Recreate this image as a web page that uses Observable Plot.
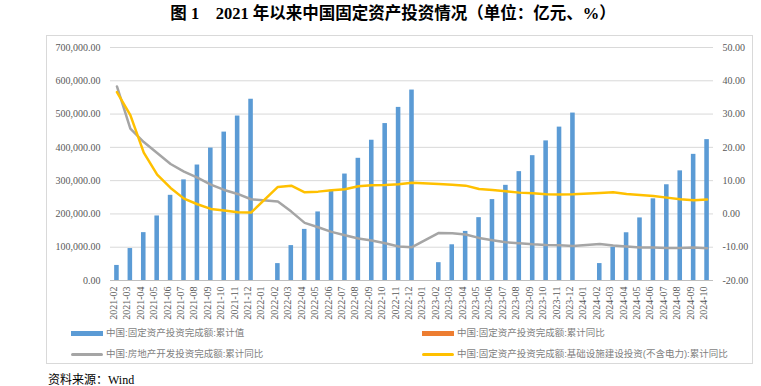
<!DOCTYPE html>
<html><head><meta charset="utf-8">
<script src="https://cdn.jsdelivr.net/npm/d3@7"></script>
<script src="https://cdn.jsdelivr.net/npm/@observablehq/plot@0.6"></script>
<style>
body{margin:0;background:#fff;width:761px;height:386px;position:relative;overflow:hidden;font-family:"Liberation Serif","Noto Sans CJK SC",serif;}
#title{position:absolute;left:0;width:786px;top:3px;text-align:center;font-size:16.5px;font-weight:bold;color:#000;line-height:22px;}
#frame{position:absolute;left:46px;top:35px;width:707px;height:329px;border:1px solid #D9D9D9;box-sizing:border-box;}
#chart{position:absolute;left:0;top:35px;}
.lg{position:absolute;font-family:"Liberation Sans","Noto Sans CJK SC",sans-serif;font-size:9.5px;color:#7f7f7f;white-space:nowrap;line-height:12px;}
.sw{position:absolute;}
#src{position:absolute;left:48px;top:374px;font-size:12px;line-height:13px;color:#000;font-family:"Liberation Serif","Noto Sans CJK SC",serif;}
</style></head>
<body>
<div id="title">图 1　2021 年以来中国固定资产投资情况（单位：亿元、%）</div>
<div id="frame"></div>
<div id="chart"></div>
<div id="legend"></div>
<div id="src">资料来源：Wind</div>
<script>
const months = ["2021-02","2021-03","2021-04","2021-05","2021-06","2021-07","2021-08","2021-09","2021-10","2021-11","2021-12",
"2022-01","2022-02","2022-03","2022-04","2022-05","2022-06","2022-07","2022-08","2022-09","2022-10","2022-11","2022-12",
"2023-01","2023-02","2023-03","2023-04","2023-05","2023-06","2023-07","2023-08","2023-09","2023-10","2023-11","2023-12",
"2024-01","2024-02","2024-03","2024-04","2024-05","2024-06","2024-07","2024-08","2024-09","2024-10"];
// 中国:固定资产投资完成额:累计值 (亿元)
const faiValue = [45236,95994,143804,193917,255900,302293,346913,397827,445823,494082,544547,
null,50763,104872,153544,205964,271430,319812,367108,421412,471459,520043,572138,
null,53577,107282,147482,188815,243113,285898,327042,375035,419409,460814,503036,
null,50847,100042,143401,188006,245391,287611,329385,378978,423222];
// 中国:房地产开发投资完成额:累计同比 (%)
const realEstateYoY = [38.3,25.6,21.6,18.3,15.0,12.7,10.9,8.8,7.2,6.0,4.4,
null,3.7,0.7,-2.7,-4.0,-5.4,-6.4,-7.4,-8.0,-8.8,-9.8,-10.0,
null,-5.7,-5.8,-6.2,-7.2,-7.9,-8.5,-8.8,-9.1,-9.3,-9.4,-9.6,
null,-9.0,-9.5,-9.8,-10.1,-10.1,-10.2,-10.2,-10.1,-10.3];
// 中国:固定资产投资完成额:基础设施建设投资(不含电力):累计同比 (%)
const infraYoY = [36.6,29.7,18.4,11.8,7.8,4.6,2.9,1.5,1.0,0.5,0.4,
null,8.1,8.5,6.5,6.7,7.1,7.4,8.3,8.6,8.7,8.9,9.4,
null,9.0,8.8,8.5,7.5,7.2,6.8,6.4,6.2,5.9,5.8,5.9,
null,6.3,6.5,6.0,5.7,5.4,4.9,4.4,4.1,4.3];
const leftTicks = [0,100000,200000,300000,400000,500000,600000,700000];
const rightTicks = [-20,-10,0,10,20,30,40,50];
const legendItems = [
  {label:"中国:固定资产投资完成额:累计值", color:"#5B9BD5", kind:"bar"},
  {label:"中国:固定资产投资完成额:累计同比", color:"#ED7D31", kind:"bar"},
  {label:"中国:房地产开发投资完成额:累计同比", color:"#A5A5A5", kind:"line"},
  {label:"中国:固定资产投资完成额:基础设施建设投资(不含电力):累计同比", color:"#FFC000", kind:"line"}
];

const rows = months.map((m,i)=>({month:m, fai:faiValue[i], re:realEstateYoY[i], infra:infraYoY[i]}));
const toLeft = v => (v + 20) * 10000; // map right axis (-20..50) onto left axis (0..700000)
const fmtL = d3.format(",.2f");
const tickFont = {fontFamily:"Liberation Serif", fontSize:10, fill:"#595959"};

const chart = Plot.plot({
  width: 761, height: 290,
  marginTop: 12, marginBottom: 45, marginLeft: 110, marginRight: 48,
  x: {type:"band", domain: months, paddingInner: 0.66, paddingOuter: 0.31, round: false, axis: null},
  y: {domain:[0,700000], axis: null},
  style: {background:"transparent", overflow:"visible"},
  marks: [
    Plot.ruleY(leftTicks.filter(d=>d>0), {stroke:"#D9D9D9", strokeWidth:1}),
    Plot.barY(rows.filter(d=>d.fai!=null), {x:"month", y:"fai", fill:"#5B9BD5"}),
    Plot.ruleY([0], {stroke:"#BFBFBF", strokeWidth:1}),
    Plot.line(rows.filter(d=>d.re!=null), {x:"month", y:d=>toLeft(d.re), stroke:"#A5A5A5", strokeWidth:2.5, strokeLinejoin:"round", strokeLinecap:"round"}),
    Plot.line(rows.filter(d=>d.infra!=null), {x:"month", y:d=>toLeft(d.infra), stroke:"#FFC000", strokeWidth:2.5, strokeLinejoin:"round", strokeLinecap:"round"}),
    Plot.text(leftTicks, {y:d=>d, text:d=>fmtL(d), frameAnchor:"left", textAnchor:"end", dx:-10, ...tickFont}),
    Plot.text(rightTicks, {y:d=>toLeft(d), text:d=>d.toFixed(2), frameAnchor:"right", textAnchor:"start", dx:9, ...tickFont}),
    Plot.text(months, {x:d=>d, text:d=>d, frameAnchor:"bottom", rotate:-90, textAnchor:"end", dy:6, ...tickFont})
  ]
});
document.getElementById("chart").appendChild(chart);

const lg = document.getElementById("legend");
const pos = [[71,333],[422,333],[71,354],[422,354]];
legendItems.forEach((it,i)=>{
  const [x,y] = pos[i];
  const sw = document.createElement("div");
  sw.className = "sw";
  const h = it.kind==="bar" ? 5 : 3;
  sw.style.cssText = `left:${x}px;top:${y-h/2}px;width:32px;height:${h}px;background:${it.color};border-radius:${it.kind==="line"?"1.5px":"0"}`;
  lg.appendChild(sw);
  const t = document.createElement("div");
  t.className = "lg";
  t.style.left = (x+35)+"px"; t.style.top = (y-6)+"px";
  t.textContent = it.label;
  lg.appendChild(t);
});
</script>
</body></html>
